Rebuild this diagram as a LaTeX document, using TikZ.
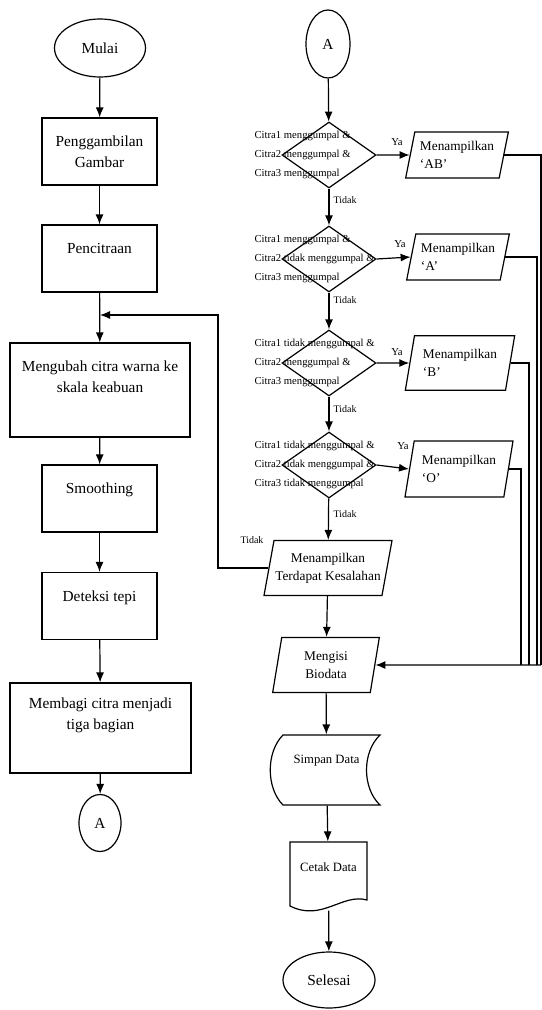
\documentclass[tikz,border=0pt]{standalone}
\usepackage{fontspec}
\setmainfont{Liberation Serif}
\usetikzlibrary{shapes.geometric,arrows.meta}
\begin{document}
\begin{tikzpicture}[x=0.75pt,y=-0.75pt,line width=0.9pt,
  every node/.style={font=\fontsize{11.5}{16}\selectfont},
  arr/.style={-{Latex[length=7.5pt,width=6pt]}},
  proc/.style={draw,rectangle,align=center,inner sep=2pt},
  term/.style={draw,ellipse,inner sep=0pt},
  dec/.style={draw,diamond,minimum width=70.5pt,minimum height=49.5pt,inner sep=0pt},
  io/.style={draw,trapezium,trapezium left angle=73,trapezium right angle=107,
             trapezium stretches body,inner sep=1pt,font=\fontsize{10}{13.5}\selectfont},
  cond/.style={align=left,anchor=west,inner sep=0pt,font=\fontsize{8}{14.25}\selectfont},
  lbl/.style={inner sep=0pt,font=\fontsize{7.5}{9}\selectfont},
  ya/.style={inner sep=0pt,font=\fontsize{8}{9}\selectfont},
]
\useasboundingbox (0,0) rectangle (542,1010);

% ---------- left column ----------
\node[term,minimum width=68.25pt,minimum height=43.5pt] (mulai) at (100,48) {Mulai};
\node[proc,minimum width=86.25pt,minimum height=50.25pt] (peng) at (99.5,151.5) {Penggambilan\\Gambar};
\node[proc,minimum width=86.25pt,minimum height=50.25pt,text depth=15pt] (penc) at (99.5,258.5) {Pencitraan};
\node[proc,minimum width=135pt,minimum height=70.5pt] (meng) at (100,390) {Mengubah citra warna ke\\skala keabuan\\[4pt]};
\node[proc,minimum width=86.25pt,minimum height=50.25pt,text depth=15pt] (smooth) at (99.5,498.5) {Smoothing};
\node[proc,minimum width=86.25pt,minimum height=50.25pt,text depth=14.5pt] (det) at (99.5,606) {Deteksi tepi};
\node[proc,minimum width=135.75pt,minimum height=67.5pt] (bagi) at (100.5,728) {Membagi citra menjadi\\tiga bagian\\[5pt]};
\node[term,minimum width=31.5pt,minimum height=42.75pt] (a1) at (100,823) {A};

\draw[arr] (mulai) -- (peng);
\draw[arr] (peng) -- (penc);
\draw[arr] (penc) -- (meng);
\draw[arr] (meng) -- (smooth);
\draw[arr] (smooth) -- (det);
\draw[arr] (det) -- (bagi);
\draw[arr] (bagi) -- (a1);

% ---------- right column ----------
\node[term,minimum width=33pt,minimum height=51pt] (a2) at (328,44) {A};

\node[dec] (d1) at (329,155) {};
\node[dec] (d2) at (329,259) {};
\node[dec] (d3) at (329,363) {};
\node[dec] (d4) at (329,465) {};

\node[cond] (t1) at (254,155) {Citra1 menggumpal \&\\Citra2 menggumpal \&\\Citra3 menggumpal};
\node[cond] (t2) at (254,259) {Citra1 menggumpal \&\\Citra2 tidak menggumpal \&\\Citra3 menggumpal};
\node[cond] (t3) at (254,363) {Citra1 tidak menggumpal \&\\Citra2 menggumpal \&\\Citra3 menggumpal};
\node[cond] (t4) at (254,465) {Citra1 tidak menggumpal \&\\Citra2 tidak menggumpal \&\\Citra3 tidak menggumpal};

\node[io,align=left,minimum width=77pt,minimum height=34.5pt] (p1) at (457,155) {Menampilkan\\`AB'};
\node[io,align=left,minimum width=77pt,minimum height=34.5pt] (p2) at (458,257) {Menampilkan\\`A'};
\node[io,align=left,minimum width=82pt,minimum height=41pt] (p3) at (460,363) {Menampilkan\\`B'};
\node[io,align=left,minimum width=81pt,minimum height=42pt] (p4) at (459,469) {Menampilkan\\`O'};

\node[io,align=center,minimum width=82.5pt,minimum height=41.25pt] (err) at (328,568) {Menampilkan\\Terdapat Kesalahan};
\node[io,align=center,minimum width=80pt,minimum height=41.25pt] (isi) at (326,665) {Mengisi\\Biodata};

% stored data
\node[inner sep=0pt,minimum width=80pt,minimum height=52.5pt,text depth=16pt,font=\fontsize{9.5}{12}\selectfont] (simpan) at (326.5,770) {Simpan Data};
\draw (283,735) -- (380,735) .. controls (362,752) and (362,788) .. (380,805)
      -- (283,805) .. controls (266,788) and (266,752) .. (283,735) -- cycle;

% document
\node[inner sep=0pt,minimum width=57.75pt,minimum height=51pt,text depth=14pt,font=\fontsize{9.5}{12}\selectfont] (cetak) at (328.5,876) {Cetak Data};
\draw (290,842) -- (367,842) -- (367,900) .. controls (342,893) and (322,922) .. (290,906) -- cycle;

\node[term,minimum width=69pt,minimum height=42pt] (selesai) at (329,980) {Selesai};

% labels
\node[ya] (y1) at (397,142) {Ya};
\node[ya] (y2) at (400,244) {Ya};
\node[ya] (y3) at (397,352) {Ya};
\node[ya] (y4) at (403,446) {Ya};
\node[lbl,anchor=west] (n1) at (333,200) {Tidak};
\node[lbl,anchor=west] (n2) at (333,300) {Tidak};
\node[lbl,anchor=west] (n3) at (333,409) {Tidak};
\node[lbl,anchor=west] (n4) at (333,514) {Tidak};
\node[lbl] (n5) at (252,540) {Tidak};

% flow
\draw[arr] (a2) -- (d1);
\draw[arr] (d1) -- (d2);
\draw[arr] (d2) -- (d3);
\draw[arr] (d3) -- (d4);
\draw[arr] (d4) -- (err);
\draw[arr] (err) -- (isi);
\draw[arr] (isi) -- (simpan);
\draw[arr] (simpan) -- (cetak);
\draw[arr] (cetak) -- (selesai);

\draw[arr] (d1.east) -- (p1.west);
\draw[arr] (d2.east) -- (p2.west);
\draw[arr] (d3.east) -- (p3.west);
\draw[arr] (d4.east) -- (p4.west);

% returns to Mengisi Biodata
\coordinate (r1) at (541,665);
\coordinate (r2) at (537,665);
\coordinate (r3) at (529,665);
\coordinate (r4) at (521,665);
\draw (p1.east) -| (r1);
\draw (p2.east) -| (r2);
\draw (p3.east) -| (r3);
\draw (p4.east) -| (r4);
\draw[arr] (r1) -- (isi.east);

% loop back
\coordinate (lp) at (218,315);
\coordinate (jn) at (100,315);
\draw[arr] (err.west) -| (lp) -- (jn);
\end{tikzpicture}
\end{document}
